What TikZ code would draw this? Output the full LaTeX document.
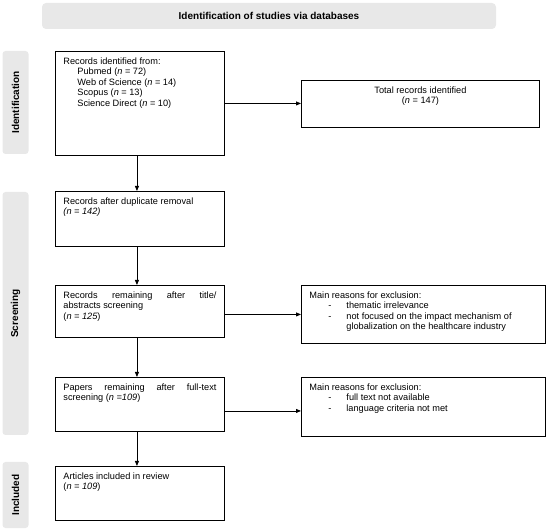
\documentclass[tikz,border=0pt]{standalone}
\usepackage{fontspec}
\setmainfont{Liberation Sans}
\usetikzlibrary{arrows.meta}
\definecolor{bar}{HTML}{E8E8E8}
\newcommand\fs{\fontsize{9.2}{10.4}\selectfont}
\newcommand\bxc[3]{\parbox[c][#2pt][t]{#1pt}{\tolerance=10000\hbadness=10000\rule{0pt}{13pt}#3}}
\tikzset{
  box/.style={draw=black, line width=0.9pt, inner xsep=8pt, inner ysep=0pt, anchor=north west, font=\fs},
  sidebar/.style={fill=bar, rounded corners=3pt, rotate=90, minimum height=26pt, inner sep=0pt, font=\fontsize{10}{12}\selectfont\bfseries},
  arr/.style={line width=0.8pt, -{Triangle[length=5pt,width=4pt]}}
}
\begin{document}
\begin{tikzpicture}[x=1pt,y=-1pt]
\useasboundingbox (0,0) rectangle (550,532);
% title
\node[fill=bar, rounded corners=4pt, minimum width=454pt, minimum height=26pt, inner sep=0pt,
      font=\fontsize{10}{12}\selectfont\bfseries] (title) at (269,16) {Identification of studies via databases};
% side bars
\node[sidebar, minimum width=103pt] (sid) at (15.5,102.5) {Identification};
\node[sidebar, minimum width=243pt] (sscr) at (15.5,313.5) {Screening};
\node[sidebar, minimum width=66pt] (sinc) at (15.5,495) {Included};
% boxes
\node[box] (b1) at (55,51) {\bxc{153}{104}{Records identified from:\\
\hspace*{14pt}Pubmed (\textit{n} = 72)\\
\hspace*{14pt}Web of Science (\textit{n} = 14)\\
\hspace*{14pt}Scopus (\textit{n} = 13)\\
\hspace*{14pt}Science Direct (\textit{n} = 10)}};
\node[box] (tot) at (301,80) {\bxc{222}{47}{\centering Total records identified\\(\textit{n} = 147)}};
\node[box] (b2) at (55,191) {\bxc{153}{55}{Records after duplicate removal\\\textit{(n = 142)}}};
\node[box] (b3) at (55,285) {\bxc{153}{52}{Records remaining after \mbox{title/}\linebreak abstracts screening\\(\textit{n = 125})}};
\node[box] (ex1) at (301,285) {\bxc{228}{58}{Main reasons for exclusion:\\
\hspace*{19pt}\makebox[18pt][l]{-}thematic irrelevance\\
\hspace*{19pt}\makebox[18pt][l]{-}not focused on the impact mechanism of\\
\hspace*{37pt}globalization on the healthcare industry}};
\node[box] (b4) at (55,377) {\bxc{153}{54}{Papers remaining after \mbox{full-text}\linebreak screening (\textit{n =109})}};
\node[box] (ex2) at (301,377) {\bxc{228}{59}{Main reasons for exclusion:\\
\hspace*{19pt}\makebox[18pt][l]{-}full text not available\\
\hspace*{19pt}\makebox[18pt][l]{-}language criteria not met}};
\node[box] (b5) at (55,466) {\bxc{153}{54}{Articles included in review\\(\textit{n = 109})}};
% connectors
\draw[arr] ([xshift=-3pt]b1.south) -- ([xshift=-3pt]b2.north);
\draw[arr] ([xshift=-3pt]b2.south) -- ([xshift=-3pt]b3.north);
\draw[arr] ([xshift=-3pt]b3.south) -- ([xshift=-3pt]b4.north);
\draw[arr] ([xshift=-3pt]b4.south) -- ([xshift=-3pt]b5.north);
\draw[arr] (b1.east) -- (b1.east -| tot.west);
\draw[arr] (b3.east |- ex1.west) -- (ex1.west);
\coordinate (e2in) at ([yshift=-4pt]ex2.west);
\draw[arr] (b4.east |- e2in) -- (e2in);
\end{tikzpicture}
\end{document}
